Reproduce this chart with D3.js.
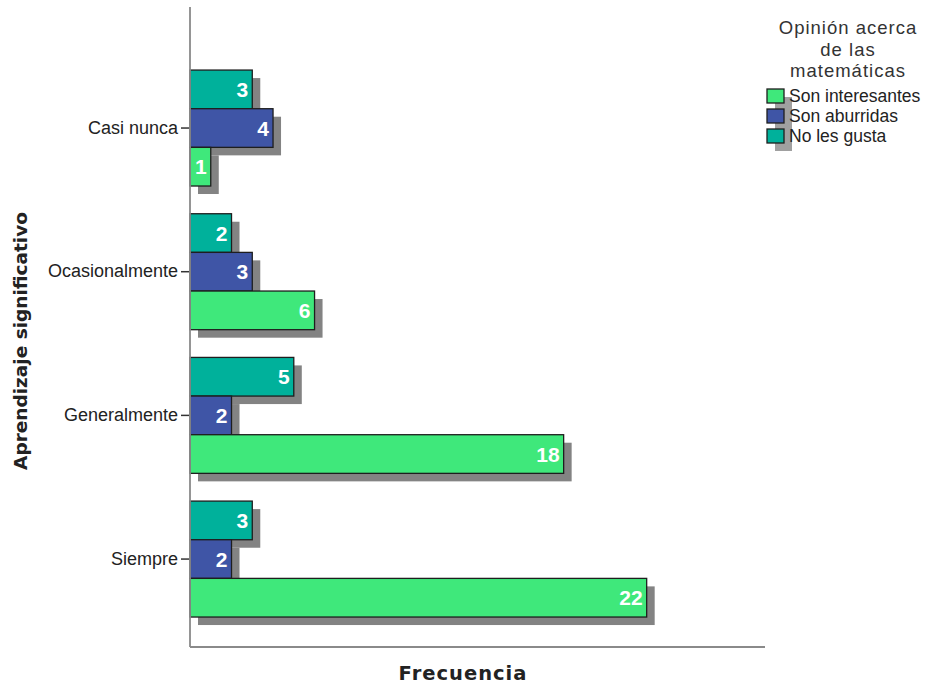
<!DOCTYPE html>
<html>
<head>
<meta charset="utf-8">
<script src="https://cdn.jsdelivr.net/npm/d3@7"></script>
<style>
  html, body { margin: 0; padding: 0; background: #fff; }
  svg { display: block; }
</style>
</head>
<body>
<svg id="chart" width="927" height="684"></svg>
<script>
// Categories of "Aprendizaje significativo", top to bottom
const categories = ["Casi nunca", "Ocasionalmente", "Generalmente", "Siempre"];
// Series in stacking order within each group (top to bottom)
const seriesNames = ["No les gusta", "Son aburridas", "Son interesantes"];
// Frequencies per category for each series
const noLesGusta = [3, 2, 5, 3];
const sonAburridas = [4, 3, 2, 2];
const sonInteresantes = [1, 6, 18, 22];
// Legend order
const legendNames = ["Son interesantes", "Son aburridas", "No les gusta"];
const legendTitle = ["Opinión acerca", "de las", "matemáticas"];
const xTitle = "Frecuencia";
const yTitle = "Aprendizaje significativo";

const colors = {
  "Son interesantes": "#3fe87b",
  "Son aburridas": "#3f55a6",
  "No les gusta": "#00b19b"
};

const valuesBySeries = {
  "No les gusta": noLesGusta,
  "Son aburridas": sonAburridas,
  "Son interesantes": sonInteresantes
};

const rows = [];
categories.forEach((c, i) => {
  seriesNames.forEach(s => rows.push({ cat: c, series: s, value: valuesBySeries[s][i] }));
});

const svg = d3.select("#chart");
const left = 190, right = 765, axisY = 647, axisTop = 7;

const x = d3.scaleLinear().domain([0, 27.7]).range([left, right]);
const y = d3.scaleBand().domain(categories).range([56.2, 630.9])
  .paddingInner(0.193).paddingOuter(0.0965);
const ySub = d3.scaleBand().domain(seriesNames).range([0, y.bandwidth()]).padding(0);

const shadow = 8;

// Drop shadows
svg.append("g").selectAll("rect").data(rows).join("rect")
  .attr("x", x(0) + shadow)
  .attr("y", d => y(d.cat) + ySub(d.series) + shadow)
  .attr("width", d => x(d.value) - x(0))
  .attr("height", ySub.bandwidth())
  .attr("fill", "#838383");

// Bars
svg.append("g").selectAll("rect").data(rows).join("rect")
  .attr("x", x(0))
  .attr("y", d => y(d.cat) + ySub(d.series))
  .attr("width", d => x(d.value) - x(0))
  .attr("height", ySub.bandwidth())
  .attr("fill", d => colors[d.series])
  .attr("stroke", "#1e1e1e")
  .attr("stroke-width", 1.3);

// Value labels
svg.append("g").selectAll("text").data(rows).join("text")
  .attr("x", d => x(d.value) - 4)
  .attr("y", d => y(d.cat) + ySub(d.series) + ySub.bandwidth() / 2)
  .attr("dy", "0.36em")
  .attr("text-anchor", "end")
  .attr("font-family", "Liberation Sans, Arial, sans-serif")
  .attr("font-weight", "bold")
  .attr("font-size", 21)
  .attr("fill", "#fff")
  .text(d => d.value);

// Y axis
const yAxis = svg.append("g").attr("transform", `translate(${left},0)`)
  .call(d3.axisLeft(y).tickSize(9).tickPadding(3));
yAxis.select(".domain").remove();
yAxis.selectAll(".tick line").attr("stroke", "#333").attr("stroke-width", 1.5);
yAxis.selectAll(".tick text")
  .attr("font-family", "Liberation Sans, Arial, sans-serif")
  .attr("font-size", 18)
  .attr("fill", "#222");
svg.append("line").attr("x1", left).attr("x2", left).attr("y1", axisTop).attr("y2", axisY)
  .attr("stroke", "#8a8a8a").attr("stroke-width", 1.8);

// X axis (no ticks)
svg.append("line").attr("x1", left).attr("x2", right).attr("y1", axisY).attr("y2", axisY)
  .attr("stroke", "#8a8a8a").attr("stroke-width", 1.8);

// Axis titles
svg.append("text")
  .attr("x", 463).attr("y", 680)
  .attr("text-anchor", "middle")
  .attr("font-family", "DejaVu Sans, Verdana, sans-serif")
  .attr("font-weight", "bold")
  .attr("font-size", 19.5)
  .attr("letter-spacing", 1)
  .attr("fill", "#222")
  .text(xTitle);

svg.append("text")
  .attr("transform", "translate(27,341) rotate(-90)")
  .attr("text-anchor", "middle")
  .attr("font-family", "DejaVu Sans, Verdana, sans-serif")
  .attr("font-weight", "bold")
  .attr("font-size", 18.5)
  .attr("fill", "#222")
  .text(yTitle);

// Legend
const legend = svg.append("g");
legend.selectAll("text.title").data(legendTitle).join("text")
  .attr("class", "title")
  .attr("x", 848).attr("y", (d, i) => 34 + i * 21.5)
  .attr("text-anchor", "middle")
  .attr("font-family", "Liberation Sans, Arial, sans-serif")
  .attr("font-size", 18.5)
  .attr("letter-spacing", 1)
  .attr("fill", "#333")
  .text(d => d);

const swX = 767, swW = 17, swH = 14, swY0 = 89, swStep = 20;
legend.append("rect")
  .attr("x", swX + shadow).attr("y", swY0 + shadow)
  .attr("width", swW).attr("height", swStep * (legendNames.length - 1) + swH)
  .attr("fill", "#a0a0a0");
legend.selectAll("rect.sw").data(legendNames).join("rect")
  .attr("class", "sw")
  .attr("x", swX).attr("y", (d, i) => swY0 + i * swStep)
  .attr("width", swW).attr("height", swH)
  .attr("fill", d => colors[d])
  .attr("stroke", "#1e1e1e").attr("stroke-width", 1.3);
legend.selectAll("text.item").data(legendNames).join("text")
  .attr("class", "item")
  .attr("x", swX + swW + 5).attr("y", (d, i) => swY0 + i * swStep + swH / 2)
  .attr("dy", "0.36em")
  .attr("font-family", "Liberation Sans, Arial, sans-serif")
  .attr("font-size", 17.5)
  .attr("fill", "#222")
  .text(d => d);
</script>
</body>
</html>
